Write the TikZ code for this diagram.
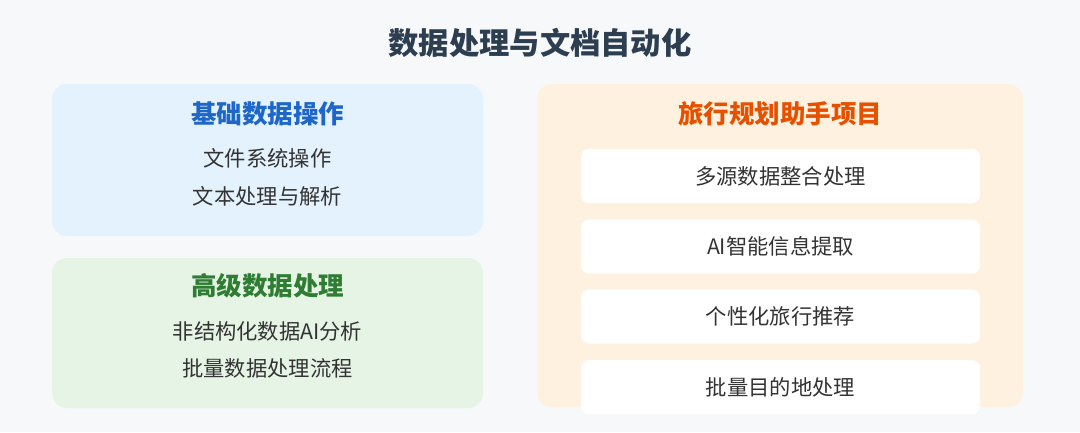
\documentclass[tikz,border=0pt]{standalone}
\usepackage{fontspec}
\setmainfont{Noto Sans CJK SC}
\definecolor{bgc}{HTML}{F7F8FA}
\definecolor{titlec}{HTML}{2C3E50}
\definecolor{bluefill}{HTML}{E3F2FD}
\definecolor{bluetext}{HTML}{1E66C8}
\definecolor{greenfill}{HTML}{E6F4E6}
\definecolor{greentext}{HTML}{2E7D32}
\definecolor{orangefill}{HTML}{FFF1DF}
\definecolor{orangetext}{HTML}{E65100}
\definecolor{itemtext}{HTML}{333333}
\begin{document}
\begin{tikzpicture}[x=1pt,y=-1pt,
  panel/.style={rounded corners=15pt, draw=none, minimum width=#1, inner sep=0pt},
  whitebox/.style={rounded corners=8pt, fill=white, draw=none, minimum width=399pt, minimum height=54pt, inner sep=0pt,
    font=\fontsize{21.3}{25}\selectfont, text=itemtext},
  maintitle/.style={font=\fontsize{30.3}{36}\selectfont\bfseries, text=titlec, inner sep=0pt},
  paneltitle/.style={font=\fontsize{25.5}{30}\selectfont\bfseries, inner sep=0pt},
  item/.style={font=\fontsize{21.3}{25}\selectfont, text=itemtext, inner sep=0pt}
]
\fill[bgc] (0,0) rectangle (1080,432);
\useasboundingbox (0,0) rectangle (1080,432);

\node[maintitle] (title) at (540,43) {数据处理与文档自动化};

% left top panel
\node[panel=431pt, minimum height=152pt, fill=bluefill] (basic) at (267.5,160) {};
\node[paneltitle, text=bluetext] (basict) at (267.5,114) {基础数据操作};
\node[item] (b1) at (267.5,158) {文件系统操作};
\node[item] (b2) at (267.5,196) {文本处理与解析};

% left bottom panel
\node[panel=431pt, minimum height=150pt, fill=greenfill] (adv) at (267.5,333) {};
\node[paneltitle, text=greentext] (advt) at (267.5,286) {高级数据处理};
\node[item] (a1) at (267.5,331) {非结构化数据AI分析};
\node[item] (a2) at (267.5,368) {批量数据处理流程};

% right panel
\node[panel=486pt, minimum height=323pt, fill=orangefill] (proj) at (780,245.5) {};
\node[paneltitle, text=orangetext] (projt) at (780,114) {旅行规划助手项目};
\node[whitebox] (p1) at (780.5,176) {多源数据整合处理};
\node[whitebox] (p2) at (780.5,246.5) {AI智能信息提取};
\node[whitebox] (p3) at (780.5,316.5) {个性化旅行推荐};
\node[whitebox] (p4) at (780.5,387) {批量目的地处理};
\end{tikzpicture}
\end{document}
